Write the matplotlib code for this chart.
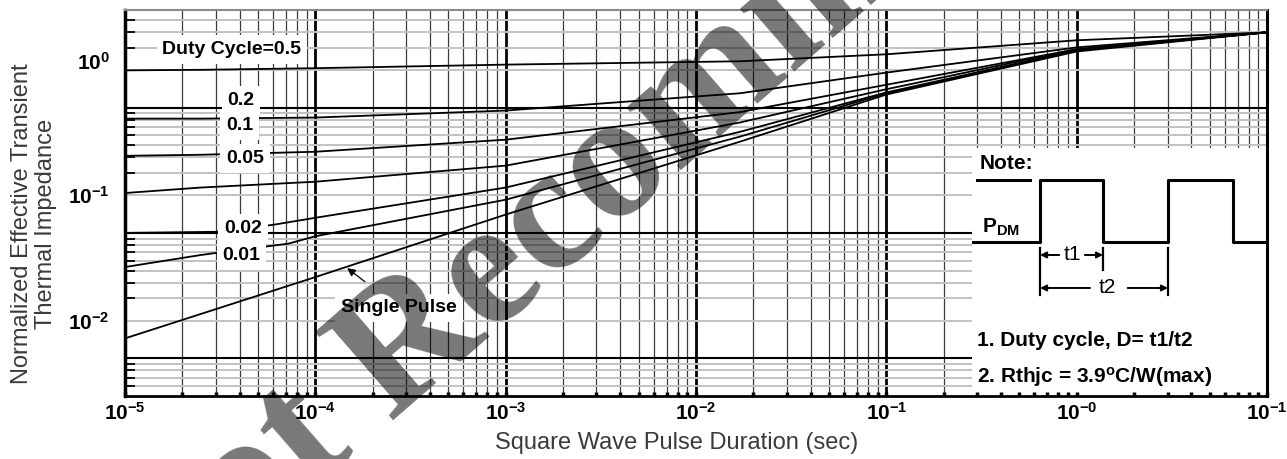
import numpy as np
import matplotlib.pyplot as plt
from matplotlib.patches import Rectangle
from matplotlib.ticker import FixedLocator, NullFormatter
from matplotlib.transforms import ScaledTranslation

plt.rcParams['font.family'] = ['Liberation Sans', 'DejaVu Sans']
plt.rcParams['mathtext.default'] = 'regular'

# pulse duration (sec) vs normalized Zth
t_flat = [1e-5, 2.5e-5, 1e-4, 1e-3, 1.7e-2, 1e-1, 1, 10]
z_d50 = [0.99, 1.0, 1.03, 1.1, 1.17, 1.33, 1.72, 1.99]
z_d20 = [0.408, 0.408, 0.416, 0.473, 0.65, 0.95, 1.51, 1.99]
z_d10 = [0.206, 0.21, 0.222, 0.277, 0.46, 0.76, 1.46, 1.99]
z_d05 = [0.104, 0.115, 0.128, 0.172, 0.38, 0.70, 1.46, 1.99]

t_d02 = [1e-5, 3e-5, 6e-5, 1e-4, 1e-3, 1.7e-2, 1e-1, 1, 10]
z_d02 = [0.050, 0.051, 0.058, 0.066, 0.115, 0.32, 0.66, 1.43, 1.99]

t_d01 = [1e-5, 2.5e-5, 3e-5, 7.2e-5, 1e-4, 1e-3, 1.7e-2, 1e-1, 1, 10]
z_d01 = [0.0267, 0.0333, 0.0346, 0.041, 0.047, 0.092, 0.293, 0.65, 1.43, 1.99]

t_single = [1e-5, 1e-4, 1e-3, 1.7e-2, 1e-1, 1, 10]
z_single = [0.0072, 0.0222, 0.070, 0.267, 0.635, 1.40, 1.99]

# curve labels and where they sit
curve_labels = ['Duty Cycle=0.5', '0.2', '0.1', '0.05', '0.02', '0.01']
label_t = [3.65e-5, 4.07e-5, 4.0e-5, 4.27e-5, 4.16e-5, 4.1e-5]
label_z = [1.46, 0.569, 0.359, 0.195, 0.054, 0.0328]

# tick labels as printed on the sheet
xtick_vals = [1e-5, 1e-4, 1e-3, 1e-2, 1e-1, 1, 10]
xtick_text = ['$10^{-5}$', '$10^{-4}$', '$10^{-3}$', '$10^{-2}$', '$10^{-1}$', '$10^{-0}$', '$10^{-1}$']
ytick_vals = [0.01, 0.1, 1]
ytick_text = ['$10^{-2}$', '$10^{-1}$', '$10^{0}$']

fig = plt.figure(figsize=(12.87, 4.59), dpi=100)
ax = fig.add_axes([0.0971, 0.1373, 0.8874, 0.8409])
ax.set_xscale('log')
ax.set_yscale('log')
ax.set_xlim(1e-5, 10)
ax.set_ylim(0.0025, 3.0)

# grid - vertical
x_decades = 10.0 ** np.arange(-5, 1)
x_minor = [m * d for d in x_decades for m in range(2, 10)]
for xv in x_minor:
    ax.axvline(xv, color='#3a3a3a', lw=0.9, zorder=1)
for xv in x_decades[1:]:
    ax.axvline(xv, color='black', lw=2.0, zorder=1)

# grid - horizontal (sheet grid is offset from the labels)
y_base = [0.0005, 0.005, 0.05, 0.5]
y_minor = [m * b for b in y_base for m in range(2, 10) if 0.0026 < m * b < 2.95]
for yv in y_minor:
    ax.axhline(yv, color='#c2c2c2', lw=1.4, zorder=1)
for yv in y_base[1:]:
    ax.axhline(yv, color='black', lw=1.5, zorder=1)

# white area for the note
ax.add_patch(Rectangle((0.742, 0.0), 0.258, 0.6425, transform=ax.transAxes,
                       facecolor='white', edgecolor='none', zorder=1.5))

# curves
for z in [z_d50, z_d20, z_d10, z_d05]:
    ax.plot(t_flat, z, color='black', lw=1.3, zorder=3)
ax.plot(t_d02, z_d02, color='black', lw=1.3, zorder=3)
ax.plot(t_d01, z_d01, color='black', lw=1.3, zorder=3)
ax.plot(t_single, z_single, color='black', lw=1.3, zorder=3)

for txt, tx, tz in zip(curve_labels, label_t, label_z):
    ax.text(tx, tz, txt, fontsize=14, fontweight='bold', ha='center', va='center', zorder=4,
            bbox=dict(boxstyle='square,pad=0.3', facecolor='white', edgecolor='none'))

ax.annotate('Single Pulse', xy=(1.47e-4, 0.0262), xytext=(2.75e-4, 0.0126),
            fontsize=14, fontweight='bold', ha='center', va='center', zorder=4,
            bbox=dict(boxstyle='square,pad=0.3', facecolor='white', edgecolor='none'),
            arrowprops=dict(arrowstyle='-|>', color='black', lw=0.9, mutation_scale=12,
                            shrinkA=14, shrinkB=0))

# note diagram
ax.text(0.7487, 0.6036, 'Note:', transform=ax.transAxes, fontsize=15, fontweight='bold',
        ha='left', va='center', zorder=4)
ax.plot([0.746, 0.7925], [0.5596, 0.5596], transform=ax.transAxes, color='black', lw=2.2, zorder=4)
wave_x = [0.7426, 0.8012, 0.8012, 0.8564, 0.8564, 0.9133, 0.9133, 0.9702, 0.9702, 1.0]
wave_y = [0.399, 0.399, 0.5596, 0.5596, 0.399, 0.399, 0.5596, 0.5596, 0.399, 0.399]
ax.plot(wave_x, wave_y, transform=ax.transAxes, color='black', lw=2.2, zorder=4, clip_on=False)
ax.text(0.7504, 0.4378, 'P$_{DM}$', transform=ax.transAxes, fontsize=15, fontweight='bold',
        ha='left', va='center', zorder=4)

ax.plot([0.8012, 0.8012], [0.3834, 0.2617], transform=ax.transAxes, color='black', lw=1.6, zorder=4)
ax.plot([0.8564, 0.8564], [0.3834, 0.3264], transform=ax.transAxes, color='black', lw=1.6, zorder=4)
ax.plot([0.9133, 0.9133], [0.3834, 0.2617], transform=ax.transAxes, color='black', lw=1.6, zorder=4)

arr = dict(arrowstyle='-|>', color='black', lw=1.4, mutation_scale=9, shrinkA=0, shrinkB=0)
ax.annotate('', xy=(0.8012, 0.3653), xytext=(0.818, 0.3653), xycoords='axes fraction', arrowprops=arr, zorder=4)
ax.annotate('', xy=(0.8564, 0.3653), xytext=(0.8405, 0.3653), xycoords='axes fraction', arrowprops=arr, zorder=4)
ax.text(0.8293, 0.3653, 't1', transform=ax.transAxes, fontsize=15, ha='center', va='center', zorder=4)
ax.annotate('', xy=(0.8012, 0.2798), xytext=(0.845, 0.2798), xycoords='axes fraction', arrowprops=arr, zorder=4)
ax.annotate('', xy=(0.9133, 0.2798), xytext=(0.878, 0.2798), xycoords='axes fraction', arrowprops=arr, zorder=4)
ax.text(0.8599, 0.2798, 't2', transform=ax.transAxes, fontsize=15, ha='center', va='center', zorder=4)

ax.text(0.746, 0.1425, '1. Duty cycle, D= t1/t2', transform=ax.transAxes, fontsize=15,
        fontweight='bold', ha='left', va='center', zorder=4)
ax.text(0.746, 0.0492, '2. Rthjc = 3.9$^{o}$C/W(max)', transform=ax.transAxes, fontsize=15,
        fontweight='bold', ha='left', va='center', zorder=4)

# axes, ticks
ax.xaxis.set_major_locator(FixedLocator(xtick_vals))
ax.xaxis.set_minor_locator(FixedLocator(x_minor))
ax.xaxis.set_minor_formatter(NullFormatter())
ax.set_xticklabels(xtick_text, fontsize=15, fontweight='bold')
ax.yaxis.set_major_locator(FixedLocator(ytick_vals))
ax.yaxis.set_minor_locator(FixedLocator(y_minor + y_base[1:]))
ax.yaxis.set_minor_formatter(NullFormatter())
ax.set_yticklabels(ytick_text, fontsize=15, fontweight='bold')
ax.tick_params(axis='x', which='both', direction='in', length=3, width=2.5, pad=4)
ax.tick_params(axis='y', which='major', length=0, pad=11)
ax.tick_params(axis='y', which='minor', direction='in', length=7, width=1.3)

# the sheet prints 10^0 a bit above its line
top_lab = ax.get_yticklabels()[-1]
top_lab.set_transform(top_lab.get_transform() + ScaledTranslation(0, 0.09, fig.dpi_scale_trans))

ax.spines['left'].set_linewidth(2.5)
ax.spines['bottom'].set_linewidth(2.0)
ax.spines['right'].set_linewidth(2.2)
ax.spines['top'].set_color('#8a8a8a')
ax.spines['top'].set_linewidth(1.5)

fig.text(677 / 1287, 1 - 443 / 459, 'Square Wave Pulse Duration (sec)', fontsize=17,
         color='#3a3a3a', ha='center', va='center')
fig.text(34 / 1287, 1 - 224 / 459, 'Normalized Effective Transient\nThermal Impedance', fontsize=17,
         color='#3a3a3a', ha='center', va='center', rotation=90, linespacing=1.15)

# watermark, runs off the page like on the sheet
fig.text(670 / 1287, 1 - 122 / 459, 'Not Recommended', fontsize=130, family='Liberation Serif',
         fontweight='bold', color='black', alpha=0.53, rotation=41, rotation_mode='anchor',
         ha='center', va='center', zorder=10)

fig.savefig('out.png', dpi=100)
